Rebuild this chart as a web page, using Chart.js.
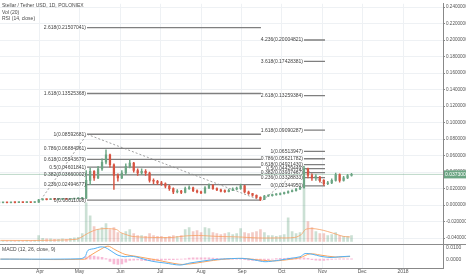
<!DOCTYPE html>
<html>
<head>
<meta charset="utf-8">
<script src="https://cdn.jsdelivr.net/npm/chart.js@4.4.0/dist/chart.umd.min.js"></script>
<style>
body { margin: 0; background: #fff; }
canvas { display: block; }
</style>
</head>
<body>
<canvas id="grafico" width="466" height="275"></canvas>
<script>
//DATOS//
// dia del año 2017 de cada vela (velas de 3 dias)
const dias = [59,62,65,68,71,74,77,80,83,86,89,92,95,98,101,104,107,110,113,116,119,122,125,128,131,134,137,140,143,146,
  149,152,155,158,161,164,167,170,173,176,179,182,185,188,191,194,197,200,203,206,209,212,215,218,221,224,227,230,233,236,
  239,242,245,248,251,254,257,260,263,266,269,272,275,278,281,284,287,290,293,296,299,302,305,308,311,314,317,320,323,326]

const cierres = [0.0030,0.0031,0.0030,0.0032,0.0031,0.0033,0.0032,0.0034,0.0033,0.0036,
  0.0065,0.0070,0.0068,0.0072,0.0070,0.0071,0.0073,0.0072,0.0075,0.0078,0.0080,0.0085,
  0.0300,0.0410,0.0330,0.0440,0.0520,0.0610,0.0490,0.0360,0.0330,0.0390,0.0470,0.0510,0.0420,0.0390,0.0410,0.0390,
  0.0300,0.0290,0.0270,0.0260,0.0230,0.0200,0.0160,0.0170,0.0155,0.0200,0.0210,0.0175,0.0160,0.0150,0.0210,0.0240,
  0.0200,0.0185,0.0170,0.0165,0.0180,0.0195,0.0200,0.0235,0.0160,0.0140,0.0120,0.0095,0.0070,0.0110,0.0115,0.0125,
  0.0130,0.0140,0.0150,0.0165,0.0175,0.0195,0.0210,0.0440,0.0360,0.0330,0.0340,0.0300,0.0260,0.0270,0.0300,0.0370,
  0.0300,0.0330,0.0360,0.0375]
const maximos = [0.0034,0.0034,0.0033,0.0035,0.0034,0.0036,0.0035,0.0037,0.0036,0.0040,
  0.0072,0.0076,0.0074,0.0077,0.0075,0.0076,0.0079,0.0077,0.0081,0.0084,0.0088,0.0095,
  0.0420,0.0450,0.0420,0.0470,0.0560,0.0670,0.0620,0.0500,0.0380,0.0420,0.0500,0.0550,0.0520,0.0440,0.0440,0.0430,
  0.0400,0.0320,0.0300,0.0290,0.0270,0.0240,0.0210,0.0190,0.0180,0.0220,0.0235,0.0220,0.0185,0.0170,0.0225,0.0260,
  0.0250,0.0210,0.0195,0.0185,0.0195,0.0210,0.0220,0.0255,0.0240,0.0170,0.0145,0.0125,0.0100,0.0120,0.0125,0.0135,
  0.0140,0.0150,0.0160,0.0175,0.0185,0.0205,0.0225,0.0470,0.0450,0.0380,0.0370,0.0350,0.0310,0.0290,0.0320,0.0390,
  0.0380,0.0350,0.0375,0.0385]
const minimos = [0.0027,0.0028,0.0028,0.0029,0.0029,0.0030,0.0030,0.0031,0.0031,0.0032,
  0.0035,0.0064,0.0065,0.0066,0.0067,0.0068,0.0069,0.0069,0.0070,0.0073,0.0076,0.0079,
  0.0080,0.0250,0.0300,0.0320,0.0420,0.0500,0.0460,0.0190,0.0290,0.0320,0.0370,0.0450,0.0400,0.0360,0.0370,0.0360,
  0.0280,0.0260,0.0250,0.0240,0.0210,0.0180,0.0140,0.0150,0.0140,0.0150,0.0190,0.0165,0.0150,0.0140,0.0145,0.0200,
  0.0190,0.0175,0.0160,0.0155,0.0160,0.0175,0.0185,0.0190,0.0150,0.0130,0.0110,0.0085,0.0055,0.0068,0.0105,0.0110,
  0.0120,0.0125,0.0135,0.0145,0.0160,0.0170,0.0190,0.0205,0.0330,0.0300,0.0300,0.0280,0.0240,0.0250,0.0260,0.0290,
  0.0280,0.0290,0.0320,0.0350]
const primeraApertura = 0.0029

// volumen (millones)
const volumen = [0.5,0.5,0.6,0.5,0.6,0.7,0.6,0.8,0.7,1.0,
  6,3,2.5,2.5,2,2,2.5,2,3,3.5,4,8,
  39,26,15,12,14,18,12,14,9,8,10,12,8,6,6,5,8,6,5,5,4,5,6,5,6,12,14,10,11,9,14,13,9,8,7,8,9,7,8,13,
  9,8,9,10,12,9,6,6,5,6,7,24,10,8,9,53,20,14,10,8,8,6,7,9,6,5,5,6]
const volMaDias = [60,90,117,121,126,133,140,148,151,155,160,175,190,200,210,225,240,255,270,283,288,291,296,302,308,315,320,325]
const volMa = [1,1,2,4,8,12,13,12,9,7,5,4,4,5.5,6,5,4.5,3.5,3.5,4,7,12,13,12,10,7,5,4.5]

// MACD (12, 26, close, 9)
const macdDias = [60,120.3,124.1,126.4,131.7,135.5,139.2,143,149.1,154.4,158.2,163.5,171.1,177.1,184.7,196.1,203.6,211.2,218.8,226.4,
  243.8,252.9,260.5,271.8,279.4,287,290.8,296.8,302.1,309.7,317.3,324.9]
const macd = [0,0.0003,0.002,0.0075,0.009,0.0103,0.010,0.0075,0.0033,0.002,0.0025,0.0017,-0.0008,-0.0022,-0.0033,-0.005,-0.0033,-0.002,-0.0008,0,
  0.0006,-0.0008,-0.0022,-0.0008,0.0006,0.002,0.0047,0.004,0.0025,0.0014,0.002,0.0025]
const senalDias = [60,124,128,135.5,141.5,146.8,154.4,162,169.6,177.1,188.5,197.6,207.4,218.8,230.2,243.8,256.7,268,279.4,287,294.6,302.1,313.5,324.9]
const senal = [0,0,0.003,0.008,0.011,0.008,0.004,0.0025,0.001,-0.0005,-0.003,-0.0045,-0.0035,-0.0015,0,0.0006,-0.0008,-0.0015,-0.0002,0.0012,0.0045,0.0035,0.0018,0.0022]
const histDias = dias.slice(21)
const histograma = [0.0003,0.002,0.003,0.0025,0.002,0.0015,0.0005,-0.002,-0.004,-0.0045,-0.004,-0.0025,-0.001,-0.0008,-0.0006,
  -0.001,-0.0012,-0.0014,-0.0012,-0.001,-0.0008,-0.0006,-0.0005,-0.0005,-0.0003,-0.0001,0.0003,0.0008,0.001,0.0012,0.0012,
  0.0012,0.001,0.0008,0.0006,0.0003,0.0002,0.0002,0.0003,0.0002,0.0001,-0.0004,-0.0008,-0.001,-0.0012,-0.0012,-0.0008,
  -0.0004,0.0001,0.0004,0.0006,0.0007,0.0008,0.0008,0.0008,0.0008,0.0012,0.0006,-0.0004,-0.0008,-0.001,-0.001,-0.0006,
  -0.0003,0.0001,0.0002,0.0002,0.0003,0.0003]

// fibonacci
const fibA = [0, 0.236, 0.382, 0.5, 0.618, 0.786, 1, 1.618, 2.618]
const fibAValores = [0.00611008,0.02494677,0.03660002,0.04601841,0.05543679,0.06884961,0.08592681,0.13525368,0.21507041]
const fibADesde = 125.6, fibAHasta = 257.4
const fibB = [0, 0.236, 0.382, 0.5, 0.618, 0.786, 1, 1.618, 2.618, 3.618, 4.236]
const fibBValores = [0.02344950,0.03328833,0.03937467,0.04429449,0.04921430,0.05621782,0.06513947,0.09090287,0.13259384,0.17428381,0.20004821]
const fibBDesde = 290.0, fibBHasta = 305.9
// lineas punteadas (dia, precio)
const trazoDias = [89, 125.6, 258.2, 289.5, 306]
const trazoPrecios = [0.0028, 0.0859, 0.0053, 0.0470, 0.02345]

const precioActual = 0.0373
const mesDias = [90,120,151,181,212,243,273,304,334,365]
const mesLabels = ['Apr','May','Jun','Jul','Aug','Sep','Oct','Nov','Dec','2018']
const yTicks = [-0.04,-0.02,0,0.02,0.04,0.06,0.08,0.10,0.12,0.14,0.16,0.18,0.20,0.22,0.24]

//COLORES//
const verde = '#6ba583'
const rojo = '#d75442'
const gris = '#7f7f7f'

//VELAS//
const aperturas = cierres.map((c, i) => i === 0 ? primeraApertura : cierres[i - 1])
const colorVela = cierres.map((c, i) => c >= aperturas[i] ? verde : rojo)
const colorVol = cierres.map((c, i) => c >= aperturas[i] ? 'rgba(107,165,131,0.35)' : 'rgba(215,84,66,0.3)')

const datasets = []

datasets.push({
  type: 'bar', yAxisID: 'y', order: 1, grouped: false, barThickness: 1.6, minBarLength: 1,
  data: dias.map((d, i) => ({ x: d, y: [aperturas[i], cierres[i]] })),
  backgroundColor: colorVela
})
datasets.push({
  type: 'bar', yAxisID: 'y', order: 2, grouped: false, barThickness: 0.8,
  data: dias.map((d, i) => ({ x: d, y: [minimos[i], maximos[i]] })),
  backgroundColor: colorVela
})
datasets.push({
  type: 'bar', yAxisID: 'v', order: 8, grouped: false, barThickness: 2,
  data: dias.map((d, i) => ({ x: d, y: volumen[i] })),
  backgroundColor: colorVol
})
datasets.push({
  type: 'line', yAxisID: 'v', order: 7, borderColor: 'rgba(247,160,100,0.8)', borderWidth: 1, tension: 0.3,
  data: volMaDias.map((d, i) => ({ x: d, y: volMa[i] }))
})

// niveles fibonacci
fibAValores.forEach(v => {
  datasets.push({
    type: 'line', yAxisID: 'y', order: 4, borderColor: gris, borderWidth: 1.3,
    data: [{ x: fibADesde, y: v }, { x: fibAHasta, y: v }]
  })
})
fibBValores.forEach(v => {
  datasets.push({
    type: 'line', yAxisID: 'y', order: 4, borderColor: gris, borderWidth: 1.3,
    data: [{ x: fibBDesde, y: v }, { x: fibBHasta, y: v }]
  })
})
datasets.push({
  type: 'line', yAxisID: 'y', order: 3, borderColor: '#8a8a8a', borderWidth: 0.8, borderDash: [2, 2],
  data: trazoDias.map((d, i) => ({ x: d, y: trazoPrecios[i] }))
})
// linea de precio actual
datasets.push({
  type: 'line', yAxisID: 'y', order: 9, borderColor: 'rgba(107,165,131,0.45)', borderWidth: 1,
  data: [{ x: 59.7, y: precioActual }, { x: 395.3, y: precioActual }]
})

//MACD//
datasets.push({
  type: 'bar', yAxisID: 'm', order: 12, grouped: false, barThickness: 2,
  data: histDias.map((d, i) => ({ x: d, y: histograma[i] })),
  backgroundColor: 'rgba(240,130,180,0.55)'
})
datasets.push({
  type: 'line', yAxisID: 'm', order: 10, borderColor: '#55b0f2', borderWidth: 1, tension: 0.3,
  data: macdDias.map((d, i) => ({ x: d, y: macd[i] }))
})
datasets.push({
  type: 'line', yAxisID: 'm', order: 11, borderColor: '#fba55e', borderWidth: 1, tension: 0.3,
  data: senalDias.map((d, i) => ({ x: d, y: senal[i] }))
})

//TEXTOS Y ADORNOS//
const extras = {
  id: 'extras',
  afterDraw(chart) {
    const ctx = chart.ctx
    const xs = chart.scales.x, ys = chart.scales.y, ms = chart.scales.m
    const area = chart.chartArea
    ctx.save()

    // separador del panel MACD
    ctx.strokeStyle = '#8c8c8c'
    ctx.lineWidth = 1
    ctx.beginPath()
    ctx.moveTo(0, 244.5)
    ctx.lineTo(466, 244.5)
    ctx.stroke()

    ctx.font = '5px "Liberation Sans"'
    ctx.fillStyle = '#444'
    ctx.textBaseline = 'middle'

    // etiquetas fibonacci
    ctx.textAlign = 'right'
    fibA.forEach((r, i) => {
      ctx.fillText(r + '(' + fibAValores[i].toFixed(8) + ')', xs.getPixelForValue(fibADesde) - 1, ys.getPixelForValue(fibAValores[i]))
    })
    fibB.forEach((r, i) => {
      ctx.fillText(r + '(' + fibBValores[i].toFixed(8) + ')', xs.getPixelForValue(fibBDesde) - 1, ys.getPixelForValue(fibBValores[i]))
    })

    // titulos
    ctx.textAlign = 'left'
    ctx.fillStyle = '#4a4a4a'
    ctx.fillText('Stellar / Tether USD, 1D, POLONIEX', 2, 6)
    ctx.fillText('Vol (20)', 2, 12.5)
    ctx.fillText('RSI (14, close)', 2, 19)
    ctx.fillText('MACD (12, 26, close, 9)', 2, 250)

    // eje del MACD
    ctx.fillStyle = '#555'
    ctx.fillText('0.0100', area.right + 3, ms.getPixelForValue(0.01))
    ctx.fillText('0.0000', area.right + 3, ms.getPixelForValue(0))

    // etiqueta de precio actual
    const yp = ys.getPixelForValue(precioActual)
    ctx.fillStyle = verde
    ctx.fillRect(area.right + 1, yp - 4, 466 - area.right - 1, 8)
    ctx.fillStyle = '#fff'
    ctx.fillText(precioActual.toFixed(8), area.right + 2, yp)
    ctx.restore()
  }
}

//GRAFICO//
Chart.defaults.font.family = '"Liberation Sans", Arial, sans-serif'
Chart.defaults.font.size = 5
Chart.defaults.color = '#555'
Chart.defaults.elements.point.radius = 0

const graficoX = document.getElementById('grafico')
const chart = new Chart(graficoX, {
  type: 'bar',
  data: { datasets: datasets },
  plugins: [extras],
  options: {
    responsive: false,
    animation: false,
    layout: { padding: 0 },
    plugins: { legend: { display: false }, tooltip: { enabled: false } },
    scales: {
      x: {
        type: 'linear', min: 59.7, max: 395.3, offset: false,
        afterBuildTicks: (s) => { s.ticks = mesDias.map(v => ({ value: v })) },
        afterFit: (s) => { s.height = 7 },
        ticks: { callback: (v, i) => mesLabels[i], padding: 1, maxRotation: 0, autoSkip: false, font: { size: 5 } },
        grid: { color: '#eef1f4', drawTicks: false, offset: false },
        border: { color: '#888' }
      },
      y: {
        type: 'linear', position: 'right', min: -0.07606, max: 0.24394,
        afterBuildTicks: (s) => { s.ticks = yTicks.map(v => ({ value: v })) },
        afterFit: (s) => { s.width = 23 },
        ticks: { callback: (v) => v.toFixed(8), padding: 1, font: { size: 4.6 } },
        grid: { color: '#eef1f4', tickLength: 2, tickColor: '#888' },
        border: { color: '#888' }
      },
      v: { type: 'linear', display: false, min: -27, max: 241 },
      m: { type: 'linear', display: false, min: -0.0075, max: 0.21583 }
    }
  }
})
</script>
</body>
</html>
